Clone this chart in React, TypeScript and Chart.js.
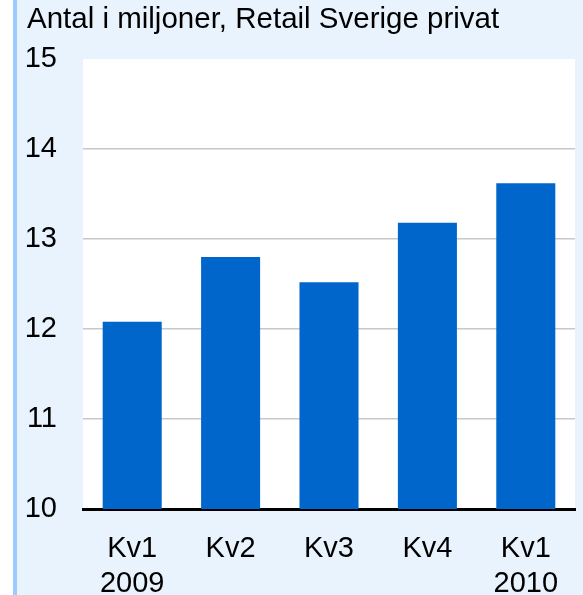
import React, { useEffect, useRef } from "react";
import { Chart, registerables } from "chart.js";

Chart.register(...registerables);

const categories: (string | string[])[] = [["Kv1", "2009"], "Kv2", "Kv3", "Kv4", ["Kv1", "2010"]];
const values: number[] = [12.08, 12.8, 12.52, 13.18, 13.62];
const yTicks: number[] = [10, 11, 12, 13, 14, 15];
const titleText = "Antal i miljoner, Retail Sverige privat";

const FONT = "'Liberation Sans', Arial, sans-serif";

const bgPlugin = {
  id: "bgPlugin",
  beforeDraw(chart: any) {
    const { ctx, width, height, chartArea } = chart;
    ctx.save();
    ctx.fillStyle = "#ffffff";
    ctx.fillRect(0, 0, width, height);
    ctx.fillStyle = "#e9f3fd";
    ctx.fillRect(17, 0, width - 17, height);
    ctx.fillStyle = "#99ccff";
    ctx.fillRect(13, 0, 4, height);
    ctx.fillStyle = "#ffffff";
    ctx.fillRect(chartArea.left, chartArea.top, chartArea.right - chartArea.left, chartArea.bottom - chartArea.top);
    ctx.fillStyle = "#000000";
    ctx.font = "29.5px " + FONT;
    ctx.textBaseline = "alphabetic";
    ctx.textAlign = "left";
    ctx.fillText(titleText, 27, 28);
    ctx.restore();
  },
};

export default function App() {
  const ref = useRef<HTMLCanvasElement>(null);
  useEffect(() => {
    if (!ref.current) return;
    const chart = new Chart(ref.current, {
      type: "bar",
      data: {
        labels: categories,
        datasets: [
          {
            data: values,
            backgroundColor: "#0066cc",
            borderWidth: 0,
            categoryPercentage: 1,
            barPercentage: 0.6,
          },
        ],
      },
      options: {
        responsive: false,
        animation: false,
        layout: { padding: { top: 59, right: 8, left: 0, bottom: 0 } },
        plugins: { legend: { display: false }, tooltip: { enabled: false }, title: { display: false } },
        scales: {
          x: {
            grid: { display: false, drawTicks: false },
            border: { display: true, color: "#000000", width: 3 },
            ticks: { color: "#000000", font: { size: 29, family: FONT }, padding: 23, maxRotation: 0 },
            afterFit(scale: any) {
              scale.height = 86;
            },
          },
          y: {
            min: 10,
            max: 15,
            afterBuildTicks(scale: any) {
              scale.ticks = yTicks.map((v) => ({ value: v }));
            },
            grid: {
              drawTicks: false,
              color: (c: any) => (c.tick && (c.tick.value === 15 || c.tick.value === 10) ? "rgba(0,0,0,0)" : "#c8c8c8"),
              lineWidth: 1.5,
            },
            border: { display: false },
            ticks: { color: "#000000", font: { size: 29, family: FONT }, padding: 26 },
            afterFit(scale: any) {
              scale.width = 83;
            },
          },
        },
      },
      plugins: [bgPlugin],
    });
    return () => chart.destroy();
  }, []);
  return (
    <div style={{ position: "absolute", left: 0, top: 0, width: 583, height: 595 }}>
      <canvas ref={ref} width={583} height={595} style={{ width: 583, height: 595, display: "block" }} />
    </div>
  );
}
